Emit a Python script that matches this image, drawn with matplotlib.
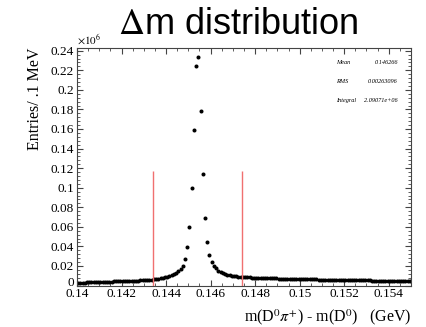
import numpy as np
import matplotlib
matplotlib.use('Agg')
import matplotlib.pyplot as plt
import matplotlib.transforms as mtransforms
from matplotlib.ticker import MultipleLocator, FormatStrFormatter

# delta m histogram, 0.1 MeV bins from 0.140 to 0.155 GeV (entries in units of 10^6)
bin_lo = 0.140
bin_w = 0.0001
entries = [
    0.0024, 0.0027, 0.0029, 0.0030, 0.0031, 0.0032, 0.0033, 0.0034, 0.0035, 0.0036,
    0.0036, 0.0037, 0.0038, 0.0039, 0.0039, 0.0040, 0.0041, 0.0041, 0.0042, 0.0043,
    0.0044, 0.0045, 0.0046, 0.0047, 0.0048, 0.0049, 0.0050, 0.0051, 0.0052, 0.0054,
    0.0055, 0.0057, 0.0059, 0.0061, 0.0064, 0.0067, 0.0070, 0.0074, 0.0078, 0.0083,
    0.0089, 0.0096, 0.0104, 0.0115, 0.0128, 0.0144, 0.0166, 0.0202, 0.0271, 0.0390,
    0.0601, 0.0993, 0.1594, 0.2240, 0.2338, 0.1786, 0.1136, 0.0688, 0.0448, 0.0309,
    0.0243, 0.0203, 0.0174, 0.0153, 0.0138, 0.0127, 0.0118, 0.0111, 0.0106, 0.0101,
    0.0097, 0.0094, 0.0091, 0.0089, 0.0087, 0.0085, 0.0083, 0.0082, 0.0081, 0.0080,
    0.0079, 0.0078, 0.0077, 0.0076, 0.0075, 0.0074, 0.0074, 0.0073, 0.0072, 0.0072,
    0.0071, 0.0070, 0.0070, 0.0069, 0.0069, 0.0068, 0.0067, 0.0067, 0.0066, 0.0066,
    0.0065, 0.0065, 0.0064, 0.0064, 0.0063, 0.0063, 0.0062, 0.0062, 0.0061, 0.0061,
    0.0060, 0.0060, 0.0059, 0.0059, 0.0058, 0.0058, 0.0058, 0.0057, 0.0057, 0.0056,
    0.0056, 0.0055, 0.0055, 0.0055, 0.0054, 0.0054, 0.0053, 0.0053, 0.0053, 0.0052,
    0.0052, 0.0052, 0.0051, 0.0051, 0.0051, 0.0050, 0.0050, 0.0050, 0.0049, 0.0049,
    0.0049, 0.0048, 0.0048, 0.0048, 0.0047, 0.0047, 0.0047, 0.0046, 0.0046, 0.0046,
]
cut_lo = 0.1434
cut_hi = 0.1474
cut_height = 0.117

stat_names = ['Mean', 'RMS', 'Integral']
stat_values = ['0.146266', '0.00263096', '2.09071e+06']

plt.rcParams['mathtext.fontset'] = 'stix'
serif = 'Liberation Serif'

centers = bin_lo + bin_w * (np.arange(len(entries)) + 0.5)

fig = plt.figure(figsize=(4.26, 3.27), dpi=100)
ax = fig.add_axes([77 / 426, 1 - 285.5 / 327, 334 / 426, (285.5 - 47.7) / 327])

ax.plot(centers, entries, 'o', color='black', markersize=2.9, markeredgewidth=0)
ax.vlines([cut_lo, cut_hi], 0, cut_height, color='#f07070', linewidth=1.0)

ax.set_xlim(0.140, 0.155)
ax.set_ylim(0, 0.2431)

ax.xaxis.set_major_locator(MultipleLocator(0.002))
ax.xaxis.set_minor_locator(MultipleLocator(0.0005))
ax.yaxis.set_major_locator(MultipleLocator(0.02))
ax.yaxis.set_minor_locator(MultipleLocator(0.004))
ax.xaxis.set_major_formatter(FormatStrFormatter('%g'))
ax.yaxis.set_major_formatter(FormatStrFormatter('%g'))

ax.tick_params(which='both', direction='in', top=True, right=True, color='#444444')
ax.tick_params(which='major', length=4.5, width=0.8)
ax.tick_params(which='minor', length=2.3, width=0.6)
ax.tick_params(axis='x', pad=2, labelsize=9.5)
ax.tick_params(axis='y', pad=2, labelsize=9.5)
for lab in ax.get_xticklabels() + ax.get_yticklabels():
    lab.set_fontfamily(serif)
for sp in ax.spines.values():
    sp.set_color('#444444')
    sp.set_linewidth(0.8)

# lift the "0" label a little, as ROOT does, so it clears the 0.14 label
fig.canvas.draw()
shift = mtransforms.ScaledTranslation(0, 3 / 72, fig.dpi_scale_trans)
for lab in ax.get_yticklabels():
    if lab.get_text() == '0':
        lab.set_transform(lab.get_transform() + shift)

ax.set_ylabel('Entries/ .1 MeV', fontsize=11.5, family=serif, loc='top', labelpad=6)
ax.set_xlabel(r'm(D$^0\pi^{+}$) - m(D$^0$)   (GeV)', fontsize=11.5, family=serif,
              loc='right', labelpad=5)

fig.text(238.5 / 426, 1 - 34.5 / 327, r'$\Delta$m distribution', fontsize=26,
         family='Liberation Sans', ha='center', va='baseline')
fig.text(77 / 426, 1 - 44 / 327, r'$\times10^{6}$', fontsize=8, ha='left', va='baseline')

for i, (name, val) in enumerate(zip(stat_names, stat_values)):
    yy = 1 - (64 + i * 19) / 327
    fig.text(336 / 426, yy, name, fontsize=4.5, family=serif, style='italic', ha='left')
    fig.text(398 / 426, yy, val, fontsize=4.5, family=serif, style='italic', ha='right')

fig.savefig('out.png', dpi=100)
